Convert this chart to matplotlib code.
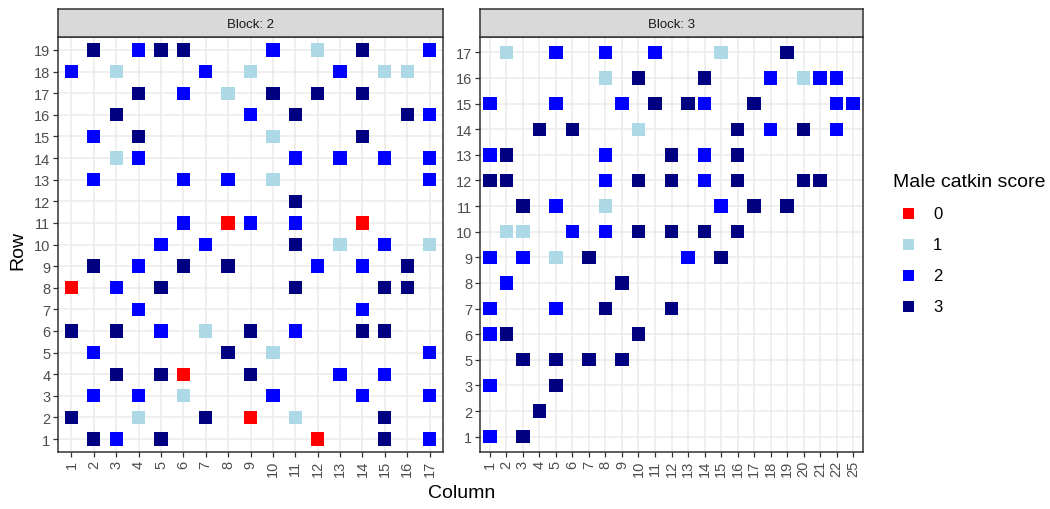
import matplotlib
matplotlib.use('Agg')
import matplotlib.pyplot as plt
from matplotlib.patches import Rectangle

plt.rcParams['font.family'] = ['Liberation Sans', 'DejaVu Sans']

# Score colours (ggplot manual scale)
score_levels = [0, 1, 2, 3]
score_colors = ['#FF0000', '#ADD8E6', '#0000FF', '#000080']

# Block 2: one line per row
b2_row = [19, 19, 19, 19, 19, 19, 19, 19,
          18, 18, 18, 18, 18, 18, 18,
          17, 17, 17, 17, 17, 17,
          16, 16, 16, 16, 16,
          15, 15, 15, 15,
          14, 14, 14, 14, 14, 14,
          13, 13, 13, 13, 13,
          12,
          11, 11, 11, 11, 11,
          10, 10, 10, 10, 10, 10,
          9, 9, 9, 9, 9, 9, 9,
          8, 8, 8, 8, 8, 8,
          7, 7,
          6, 6, 6, 6, 6, 6, 6, 6,
          5, 5, 5, 5,
          4, 4, 4, 4, 4, 4,
          3, 3, 3, 3, 3, 3,
          2, 2, 2, 2, 2, 2,
          1, 1, 1, 1, 1, 1]
b2_col = [2, 4, 5, 6, 10, 12, 14, 17,
          1, 3, 7, 9, 13, 15, 16,
          4, 6, 8, 10, 12, 14,
          3, 9, 11, 16, 17,
          2, 4, 10, 14,
          3, 4, 11, 13, 15, 17,
          2, 6, 8, 10, 17,
          11,
          6, 8, 9, 11, 14,
          5, 7, 11, 13, 15, 17,
          2, 4, 6, 8, 12, 14, 16,
          1, 3, 5, 11, 15, 16,
          4, 14,
          1, 3, 5, 7, 9, 11, 14, 15,
          2, 8, 10, 17,
          3, 5, 6, 9, 13, 15,
          2, 4, 6, 10, 14, 17,
          1, 4, 7, 9, 11, 15,
          2, 3, 5, 12, 15, 17]
b2_score = [3, 2, 3, 3, 2, 1, 3, 2,
            2, 1, 2, 1, 2, 1, 1,
            3, 2, 1, 3, 3, 3,
            3, 2, 3, 3, 2,
            2, 3, 1, 3,
            1, 2, 2, 2, 2, 2,
            2, 2, 2, 1, 2,
            3,
            2, 0, 2, 2, 0,
            2, 2, 3, 1, 2, 1,
            3, 2, 3, 3, 2, 2, 3,
            0, 2, 3, 3, 3, 3,
            2, 2,
            3, 3, 2, 1, 3, 2, 3, 3,
            2, 3, 1, 2,
            3, 3, 0, 3, 2, 2,
            2, 2, 1, 2, 2, 2,
            3, 1, 3, 0, 1, 3,
            3, 2, 3, 0, 3, 2]

# Block 3: one line per row
b3_row = [17, 17, 17, 17, 17, 17,
          16, 16, 16, 16, 16, 16, 16,
          15, 15, 15, 15, 15, 15, 15, 15, 15,
          14, 14, 14, 14, 14, 14, 14,
          13, 13, 13, 13, 13, 13,
          12, 12, 12, 12, 12, 12, 12, 12, 12,
          11, 11, 11, 11, 11, 11,
          10, 10, 10, 10, 10, 10, 10, 10,
          9, 9, 9, 9, 9, 9,
          8, 8,
          7, 7, 7, 7,
          6, 6, 6,
          5, 5, 5, 5,
          3, 3,
          2,
          1, 1]
b3_col = [2, 5, 8, 11, 15, 19,
          8, 10, 14, 18, 20, 21, 22,
          1, 5, 9, 11, 13, 14, 17, 22, 25,
          4, 6, 10, 16, 18, 20, 22,
          1, 2, 8, 12, 14, 16,
          1, 2, 8, 10, 12, 14, 16, 20, 21,
          3, 5, 8, 15, 17, 19,
          2, 3, 6, 8, 10, 12, 14, 16,
          1, 3, 5, 7, 13, 15,
          2, 9,
          1, 5, 8, 12,
          1, 2, 10,
          3, 5, 7, 9,
          1, 5,
          4,
          1, 3]
b3_score = [1, 2, 2, 2, 1, 3,
            1, 3, 3, 2, 1, 2, 2,
            2, 2, 2, 3, 3, 2, 3, 2, 2,
            3, 3, 1, 3, 2, 3, 2,
            2, 3, 2, 3, 2, 3,
            3, 3, 2, 3, 3, 2, 3, 3, 3,
            3, 2, 1, 2, 3, 3,
            1, 1, 2, 2, 3, 3, 3, 3,
            2, 2, 1, 3, 2, 3,
            2, 3,
            2, 2, 3, 3,
            2, 3, 3,
            3, 3, 3, 3,
            2, 3,
            3,
            2, 3]

W, H = 1050, 510
fig = plt.figure(figsize=(W / 100, H / 100), dpi=100)
fig.patch.set_facecolor('white')

BORDER = '#333333'
GRID = '#EBEBEB'
TICKTXT = '#4D4D4D'


def px_axes(x0, y0, x1, y1):
    return fig.add_axes([x0 / W, 1 - y1 / H, (x1 - x0) / W, (y1 - y0) / H])


def draw_panel(box, rows, cols, scores, title):
    x0, y0, x1, y1 = box
    ax = px_axes(x0, y0, x1, y1)
    xlev = sorted(set(cols))
    ylev = sorted(set(rows))
    xi = [xlev.index(c) for c in cols]
    yi = [ylev.index(r) for r in rows]
    ax.scatter(xi, yi, c=[score_colors[s] for s in scores], marker='s',
               s=92, linewidths=0, zorder=3)
    ax.set_xlim(-0.6, len(xlev) - 0.4)
    ax.set_ylim(-0.6, len(ylev) - 0.4)
    ax.set_xticks(range(len(xlev)))
    ax.set_xticklabels([str(v) for v in xlev], rotation=90)
    ax.set_yticks(range(len(ylev)))
    ax.set_yticklabels([str(v) for v in ylev])
    ax.grid(True, color=GRID, linewidth=1.1, zorder=0)
    ax.set_axisbelow(True)
    for sp in ax.spines.values():
        sp.set_color(BORDER)
        sp.set_linewidth(1.1)
    ax.tick_params(colors=BORDER, length=3.5, width=0.9, labelsize=10.5,
                   labelcolor=TICKTXT, pad=2)

    # facet strip
    st = px_axes(x0, 10, x1, y0)
    st.set_facecolor('#D9D9D9')
    st.set_xticks([])
    st.set_yticks([])
    for sp in st.spines.values():
        sp.set_color(BORDER)
        sp.set_linewidth(1.1)
    st.text(0.5, 0.48, title, ha='center', va='center', fontsize=9.5,
            color='#1A1A1A', transform=st.transAxes)
    return ax


draw_panel((58, 38, 443, 453), b2_row, b2_col, b2_score, 'Block: 2')
draw_panel((480, 38, 863, 453), b3_row, b3_col, b3_score, 'Block: 3')

# axis titles
fig.text(462 / W, 1 - 494 / H, 'Column', ha='center', va='center',
         fontsize=14, color='black')
fig.text(18 / W, 1 - 250 / H, 'Row', ha='center', va='center',
         rotation=90, fontsize=14, color='black')

# legend
leg = fig.add_axes([0, 0, 1, 1])
leg.set_xlim(0, W)
leg.set_ylim(H, 0)
leg.axis('off')
leg.text(893, 183, 'Male catkin score', ha='left', va='center',
         fontsize=14, color='black')
for k, (lvl, col) in enumerate(zip(score_levels, score_colors)):
    yc = 214 + k * 31
    leg.add_patch(Rectangle((903, yc - 5.5), 11, 11, facecolor=col,
                            edgecolor='none'))
    leg.text(933, yc + 1, str(lvl), ha='left', va='center', fontsize=12,
             color='black')

fig.savefig('out.png', dpi=100)
